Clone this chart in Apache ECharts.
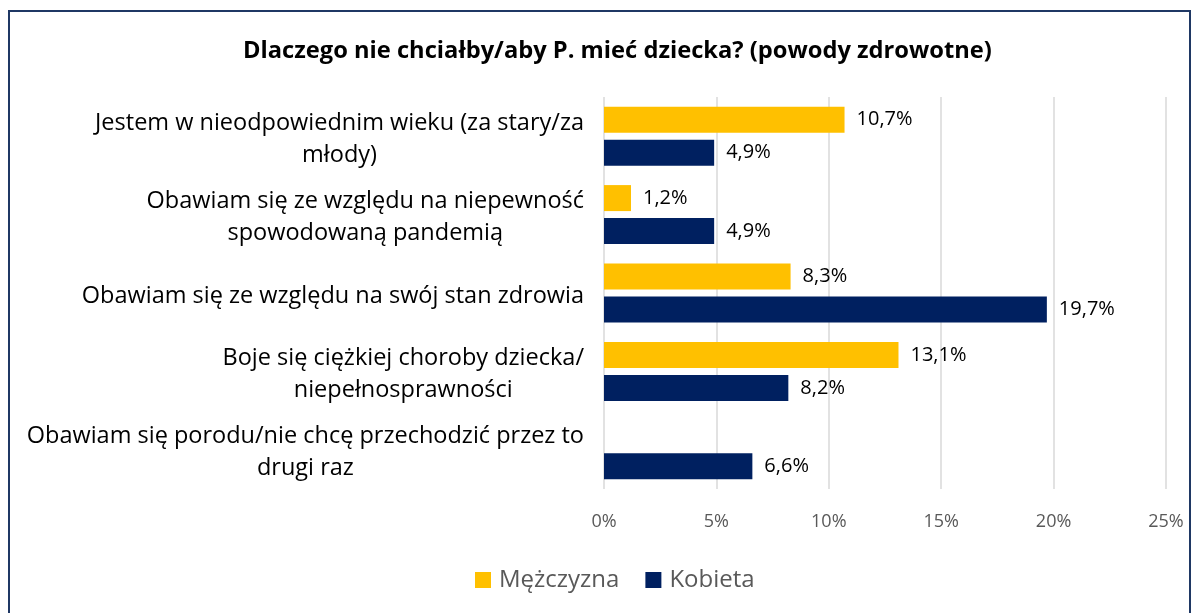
<!DOCTYPE html>
<html>
<head>
    <meta charset="utf-8">
    <title>Powody zdrowotne</title>
    <script src="https://cdn.jsdelivr.net/npm/echarts@6/dist/echarts.min.js"></script>
    <style>
        html, body { margin: 0; padding: 0; background: #fff; }
    </style>
</head>
<body>
    <div id="main" style="width: 1200px;height:613px;"></div>
    <script type="text/javascript">
        // dane
        var categories = [
            'Jestem w nieodpowiednim wieku (za stary/za\nmłody)',
            'Obawiam się ze względu na niepewność\nspowodowaną pandemią',
            'Obawiam się ze względu na swój stan zdrowia',
            'Boje się ciężkiej choroby dziecka/\nniepełnosprawności',
            'Obawiam się porodu/nie chcę przechodzić przez to\ndrugi raz'
        ];
        var mezczyzna = [10.7, 1.2, 8.3, 13.1, '-'];
        var kobieta = [4.9, 4.9, 19.7, 8.2, 6.6];
        var axisTicks = [0, 25, 5]; // min, max, krok

        var font = '"Open Sans", "Noto Sans", sans-serif';

        function fmtPct(p) {
            return p.value.toFixed(1).replace('.', ',') + '%';
        }

        var myChart = echarts.init(document.getElementById('main'));

        var option = {
            backgroundColor: '#fff',
            textStyle: { fontFamily: font },
            title: {
                text: 'Dlaczego nie chciałby/aby P. mieć dziecka? (powody zdrowotne)',
                left: 238,
                top: 34,
                textStyle: { fontSize: 23.7, fontWeight: 'bold', color: '#000', fontFamily: font }
            },
            graphic: [{
                type: 'rect',
                shape: { x: 9, y: 11, width: 1181, height: 640 },
                style: { fill: 'none', stroke: '#1f3864', lineWidth: 2 },
                silent: true
            }],
            legend: {
                bottom: 16,
                left: 470,
                icon: 'rect',
                itemWidth: 16,
                itemHeight: 16,
                itemGap: 26,
                textStyle: { fontSize: 24, color: '#595959', fontFamily: font, padding: [0, 0, 0, 3] }
            },
            grid: { left: 604, right: 34, top: 97, bottom: 124 },
            xAxis: {
                type: 'value',
                min: axisTicks[0],
                max: axisTicks[1],
                interval: axisTicks[2],
                axisLine: { show: false },
                axisTick: { show: false },
                axisLabel: { formatter: '{value}%', fontSize: 18, color: '#595959', margin: 24 },
                splitLine: { lineStyle: { color: '#d9d9d9', width: 1.5 } }
            },
            yAxis: {
                type: 'category',
                inverse: true,
                data: categories,
                axisLine: { show: false },
                axisTick: { show: false },
                axisLabel: {
                    margin: 20,
                    padding: [6, 0, 0, 0],
                    formatter: function (v) {
                        return v.split('\n').map(function (l) { return '{c|' + l + '}'; }).join('\n');
                    },
                    rich: {
                        c: { align: 'center', fontSize: 23.5, color: '#000', lineHeight: 32, fontFamily: font }
                    }
                }
            },
            series: [
                {
                    name: 'Mężczyzna',
                    type: 'bar',
                    data: mezczyzna,
                    barWidth: 26,
                    barGap: '27%',
                    itemStyle: { color: '#ffc000' },
                    label: { show: true, position: 'right', distance: 12, formatter: fmtPct, fontSize: 20, color: '#000' }
                },
                {
                    name: 'Kobieta',
                    type: 'bar',
                    data: kobieta,
                    barWidth: 26,
                    itemStyle: { color: '#002060' },
                    label: { show: true, position: 'right', distance: 12, formatter: fmtPct, fontSize: 20, color: '#000' }
                }
            ]
        };
        myChart.setOption(option);
    </script>
</body>
</html>
